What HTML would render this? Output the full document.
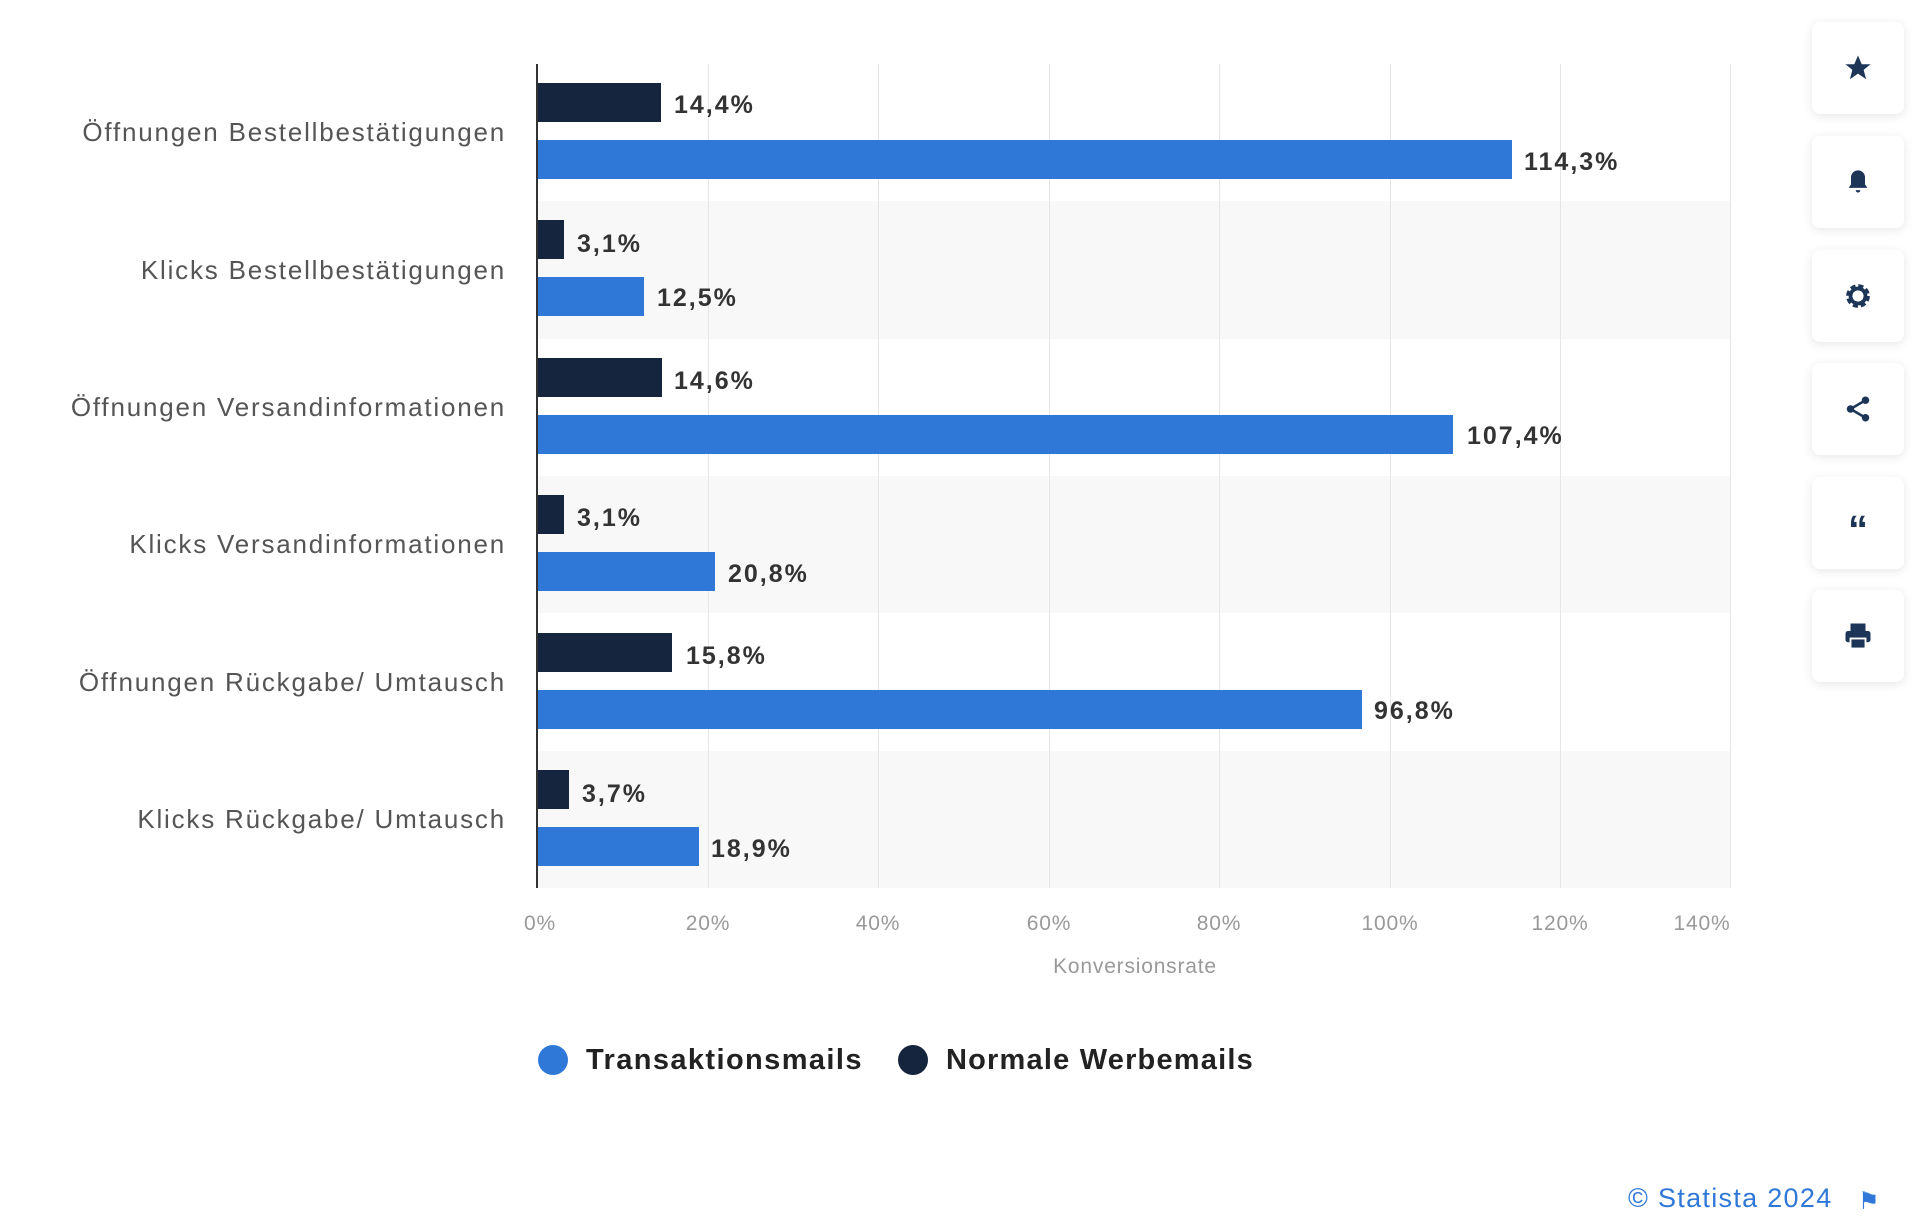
<!DOCTYPE html>
<html><head><meta charset="utf-8"><style>
body{margin:0;width:1920px;height:1231px;background:#fff;position:relative;overflow:hidden;font-family:"Liberation Sans",sans-serif}
.a{position:absolute}
.band{position:absolute;left:538px;width:1192px;height:137.3px;background:#f8f8f8}
.grid{position:absolute;top:64px;height:824px;width:1px;background:#e6e6e6}
.bar{position:absolute;left:538px;height:39px}
.d{background:#14253d}.b{background:#2f78d8}
.v{position:absolute;font-size:25px;font-weight:bold;color:#333;line-height:39px;letter-spacing:2px}
.cat{position:absolute;right:1414px;font-size:26px;letter-spacing:1.8px;color:#555;text-align:right;white-space:nowrap;line-height:30px}
.tick{position:absolute;top:912px;font-size:21px;letter-spacing:0.8px;color:#999;width:100px;text-align:center;margin-left:-50px}
.btn{position:absolute;left:1812px;width:92px;height:92px;background:#fff;border-radius:8px;box-shadow:0 2px 10px rgba(0,0,0,.10);display:flex;align-items:center;justify-content:center}
</style></head><body>
<div class="band" style="top:201.3px"></div>
<div class="band" style="top:475.9px"></div>
<div class="band" style="top:750.5px"></div>
<div class="grid" style="left:708px"></div><div class="grid" style="left:878px"></div><div class="grid" style="left:1049px"></div><div class="grid" style="left:1219px"></div><div class="grid" style="left:1390px"></div><div class="grid" style="left:1560px"></div><div class="grid" style="left:1730px"></div>
<div class="a" style="left:536px;top:64px;width:2px;height:824px;background:#333"></div>

<div class="cat" style="top:117px">Öffnungen Bestellbestätigungen</div>
<div class="cat" style="top:255px">Klicks Bestellbestätigungen</div>
<div class="cat" style="top:392px">Öffnungen Versandinformationen</div>
<div class="cat" style="top:529px">Klicks Versandinformationen</div>
<div class="cat" style="top:667px">Öffnungen Rückgabe/ Umtausch</div>
<div class="cat" style="top:804px">Klicks Rückgabe/ Umtausch</div>

<div class="bar d" style="top:83px;width:123px"></div><div class="v" style="top:86px;left:674px">14,4%</div>
<div class="bar b" style="top:140px;width:974px"></div><div class="v" style="top:143px;left:1524px">114,3%</div>
<div class="bar d" style="top:220px;width:26px"></div><div class="v" style="top:225px;left:577px">3,1%</div>
<div class="bar b" style="top:277px;width:106px"></div><div class="v" style="top:279px;left:657px">12,5%</div>
<div class="bar d" style="top:358px;width:124px"></div><div class="v" style="top:362px;left:674px">14,6%</div>
<div class="bar b" style="top:415px;width:915px"></div><div class="v" style="top:417px;left:1467px">107,4%</div>
<div class="bar d" style="top:495px;width:26px"></div><div class="v" style="top:499px;left:577px">3,1%</div>
<div class="bar b" style="top:552px;width:177px"></div><div class="v" style="top:555px;left:728px">20,8%</div>
<div class="bar d" style="top:633px;width:134px"></div><div class="v" style="top:637px;left:686px">15,8%</div>
<div class="bar b" style="top:690px;width:824px"></div><div class="v" style="top:692px;left:1374px">96,8%</div>
<div class="bar d" style="top:770px;width:31px"></div><div class="v" style="top:775px;left:582px">3,7%</div>
<div class="bar b" style="top:827px;width:161px"></div><div class="v" style="top:830px;left:711px">18,9%</div>

<div class="tick" style="left:540px">0%</div><div class="tick" style="left:708px">20%</div><div class="tick" style="left:878px">40%</div><div class="tick" style="left:1049px">60%</div><div class="tick" style="left:1219px">80%</div><div class="tick" style="left:1390px">100%</div><div class="tick" style="left:1560px">120%</div><div class="tick" style="left:1702px">140%</div>
<div class="a" style="left:1035px;top:955px;width:200px;text-align:center;font-size:21px;letter-spacing:0.8px;color:#999">Konversionsrate</div>

<div class="a" style="left:538px;top:1045px;width:30px;height:30px;border-radius:50%;background:#2f78d8"></div>
<div class="a" style="left:586px;top:1044px;font-size:29px;letter-spacing:1.4px;font-weight:bold;color:#222">Transaktionsmails</div>
<div class="a" style="left:898px;top:1045px;width:30px;height:30px;border-radius:50%;background:#14253d"></div>
<div class="a" style="left:946px;top:1044px;font-size:29px;letter-spacing:1.2px;font-weight:bold;color:#222">Normale Werbemails</div>

<div class="a" style="left:1628px;top:1183px;font-size:27px;letter-spacing:1.3px;color:#2f78d8">© Statista 2024</div>
<div class="a" style="left:1858px;top:1187px;font-size:24px;color:#2f78d8">⚑</div>

<div class="btn" style="top:22px"><svg width="30" height="30" viewBox="0 0 24 24"><path d="M12 2l3 7h7l-5.5 4.5 2 7.5L12 16.5 5.5 21l2-7.5L2 9h7z" fill="#1d3557"/></svg></div>
<div class="btn" style="top:136px"><svg width="28" height="30" viewBox="0 0 24 24"><path d="M12 2a6 6 0 0 0-6 6v6l-2 3h16l-2-3V8a6 6 0 0 0-6-6zm-2 17a2 2 0 0 0 4 0z" fill="#1d3557"/></svg></div>
<div class="btn" style="top:250px"><svg width="30" height="30" viewBox="0 0 24 24"><circle cx="12" cy="12" r="7" fill="none" stroke="#1d3557" stroke-width="5" stroke-dasharray="3.5 2"/><circle cx="12" cy="12" r="6" fill="none" stroke="#1d3557" stroke-width="3"/></svg></div>
<div class="btn" style="top:363px"><svg width="30" height="30" viewBox="0 0 24 24"><circle cx="18" cy="5" r="3" fill="#1d3557"/><circle cx="6" cy="12" r="3" fill="#1d3557"/><circle cx="18" cy="19" r="3" fill="#1d3557"/><path d="M18 5L6 12l12 7" stroke="#1d3557" stroke-width="2" fill="none"/></svg></div>
<div class="btn" style="top:477px"><span style="font-size:40px;font-weight:bold;color:#1d3557;line-height:40px;margin-top:14px">“</span></div>
<div class="btn" style="top:590px"><svg width="30" height="30" viewBox="0 0 24 24"><rect x="6" y="2" width="12" height="6" fill="#1d3557"/><rect x="2" y="8" width="20" height="9" rx="2" fill="#1d3557"/><rect x="6" y="14" width="12" height="8" fill="#1d3557" stroke="#fff" stroke-width="1.5"/></svg></div>
</body></html>
